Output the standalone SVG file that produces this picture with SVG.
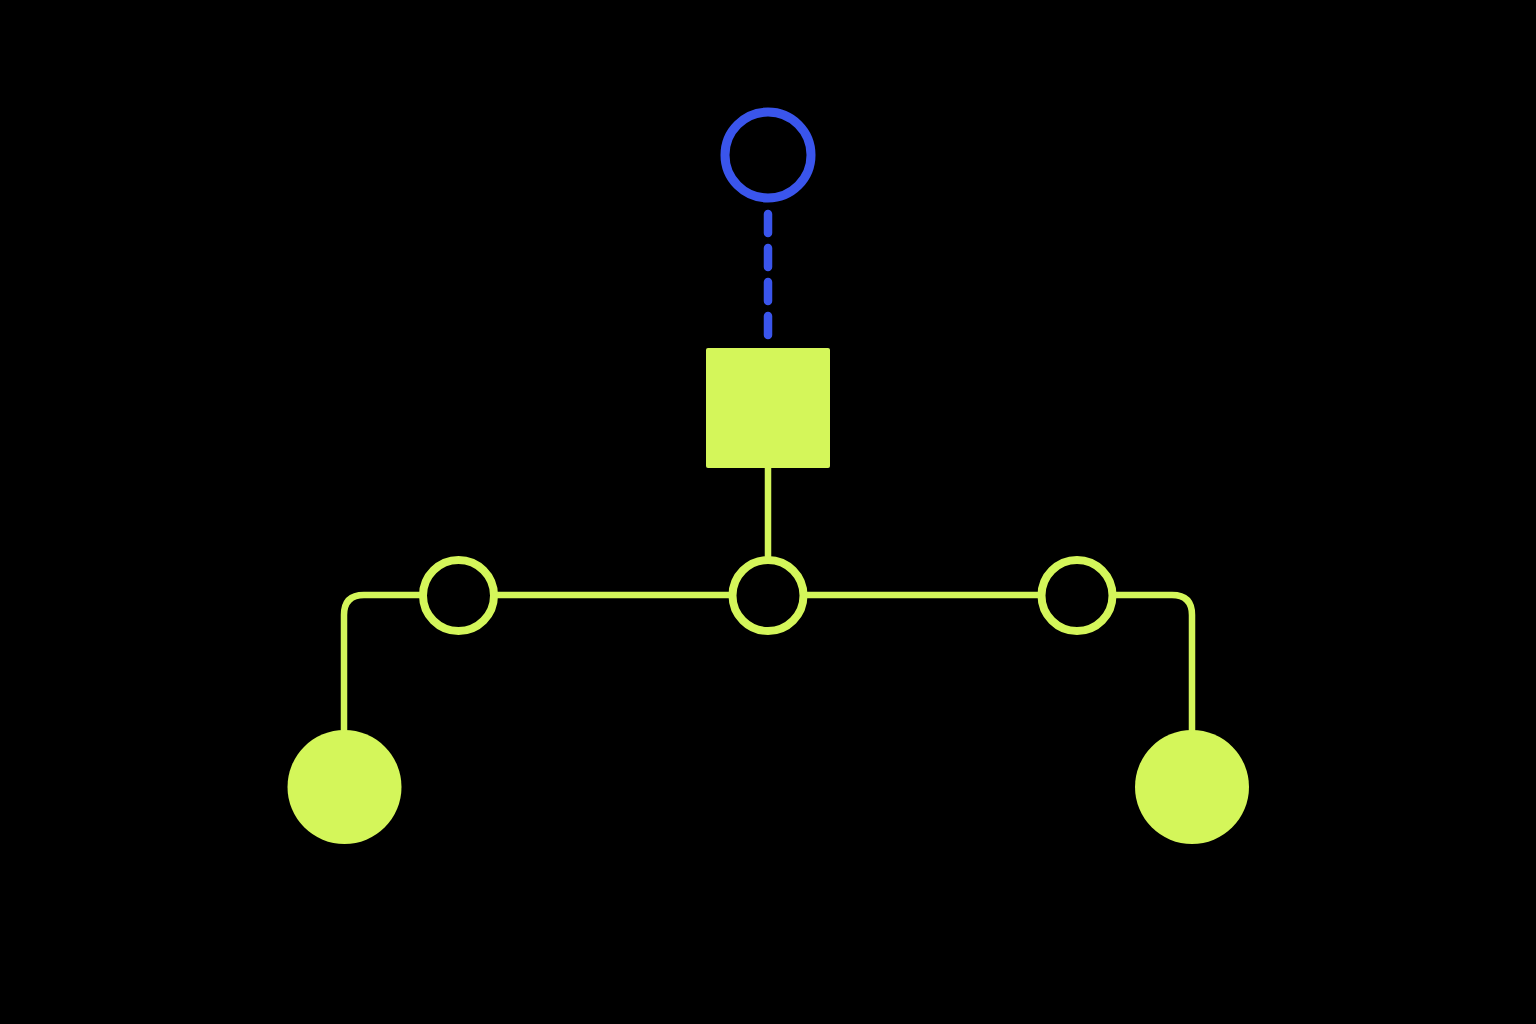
<svg xmlns="http://www.w3.org/2000/svg" width="1536" height="1024" viewBox="0 0 1536 1024">
<style>
.lime{stroke:#D4F65A;fill:none;stroke-width:6.5;stroke-linecap:round;stroke-linejoin:round}
.ring{stroke:#D4F65A;fill:#000;stroke-width:8}
.solid{fill:#D4F65A}
.blue{stroke:#3A55EC;fill:none}
</style>
<rect width="1536" height="1024" fill="#000"/>
<g id="connectors">
<line class="blue" x1="768" y1="214" x2="768" y2="337" stroke-width="8.5" stroke-dasharray="19 15" stroke-linecap="round"/>
<line class="lime" x1="768" y1="468" x2="768" y2="556"/>
<path class="lime" d="M420 595 H364 Q344 595 344 615 V732"/>
<line class="lime" x1="496" y1="595" x2="730" y2="595"/>
<line class="lime" x1="806" y1="595" x2="1039" y2="595"/>
<path class="lime" d="M1115 595 H1172 Q1192 595 1192 615 V732"/>
</g>
<g id="top-node"><circle class="blue" cx="768" cy="155" r="43" stroke-width="9"/></g>
<g id="square-node"><rect class="solid" x="706" y="348" width="124" height="120" rx="2"/></g>
<g id="ring-left"><circle class="ring" cx="458.5" cy="595.5" r="35.5"/></g>
<g id="ring-center"><circle class="ring" cx="768" cy="595.5" r="35.5"/></g>
<g id="ring-right"><circle class="ring" cx="1077" cy="595.5" r="35.5"/></g>
<g id="dot-left"><circle class="solid" cx="344.5" cy="787" r="57"/></g>
<g id="dot-right"><circle class="solid" cx="1192" cy="787" r="57"/></g>
</svg>
